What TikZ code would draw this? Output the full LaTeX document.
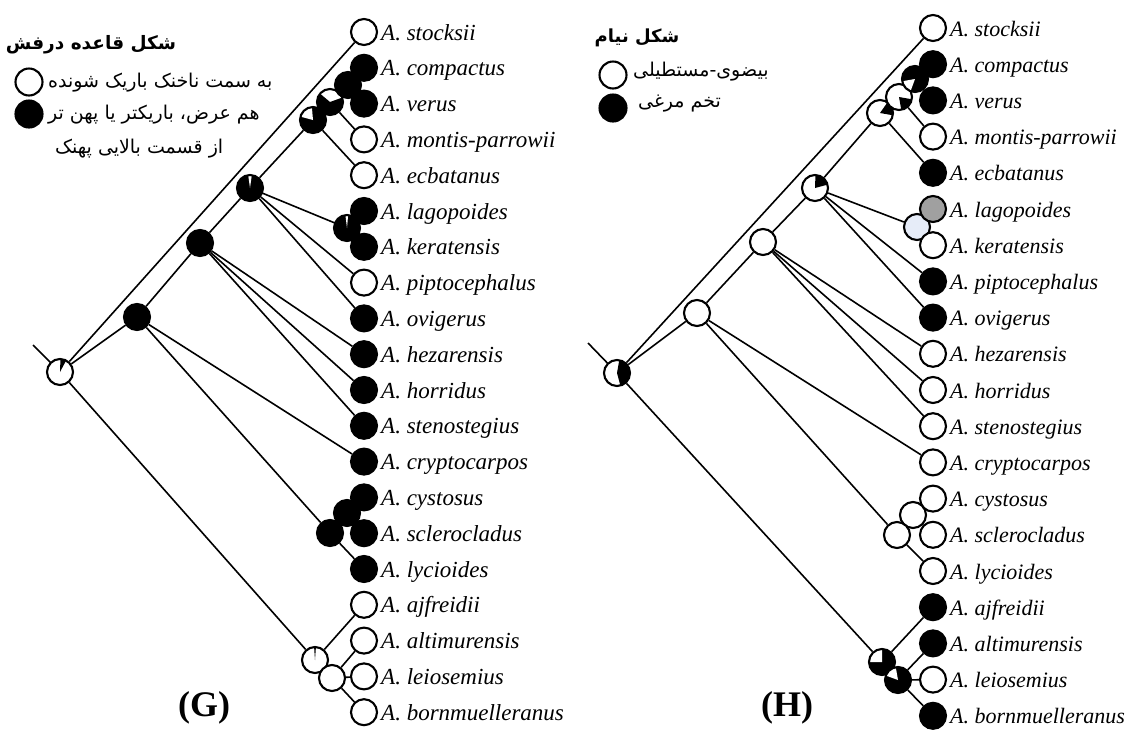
\documentclass[tikz,border=0pt]{standalone}
\usepackage{fontspec}
\setmainfont{Liberation Serif}
\newfontfamily\arabicfont[Script=Arabic]{DejaVu Sans}
\TeXXeTstate=1
\usetikzlibrary{backgrounds}
\definecolor{lblue}{RGB}{230,236,248}
\definecolor{lgray}{RGB}{160,160,160}
\begin{document}
\begin{tikzpicture}[x=1pt,y=1pt,
  edge/.style={line width=1.6pt},
  nd/.style={circle,draw,line width=2.1pt,minimum size=26pt,inner sep=0pt,fill=white},
  bnd/.style={nd,fill=black},
  bw/.style 2 args={path picture={\fill[black] (path picture bounding box.center) -- ++(#1:20pt) arc[start angle=#1,end angle=#2,radius=20pt] -- cycle;}},
  ww/.style 2 args={path picture={\fill[white] (path picture bounding box.center) -- ++(#1:20pt) arc[start angle=#1,end angle=#2,radius=20pt] -- cycle;}},
  lab/.style={anchor=base west,inner sep=0pt,font=\fontsize{23}{25}\selectfont\itshape},
  labh/.style={anchor=base west,inner sep=0pt,font=\fontsize{22}{25}\selectfont\itshape},
  ptitle/.style={inner sep=0pt,font=\fontsize{36}{40}\selectfont\bfseries},
  artitle/.style={inner sep=0pt,font=\arabicfont\bfseries\fontsize{18.5}{22}\selectfont},
  artext/.style={inner sep=0pt,anchor=west,font=\arabicfont\fontsize{19}{22}\selectfont},
]
\useasboundingbox (0,0) rectangle (1130,-732);

% ---------------- legends ----------------
\node[artitle] (gTitle) at (91,-45) {\beginR شکل قاعده درفش\endR};
\node[nd,minimum size=27pt] (gLegW) at (29,-82) {};
\node[bnd,minimum size=27pt] (gLegB) at (29,-114) {};
\node[artext] (gLeg1) at (48,-83) {\beginR به سمت ناخنک باریک شونده\endR};
\node[artext] (gLeg2) at (48,-115) {\beginR هم عرض، باریکتر یا پهن تر\endR};
\node[artext] (gLeg3) at (55,-149) {\beginR از قسمت بالایی پهنک\endR};

\node[artitle,font=\arabicfont\bfseries\fontsize{18}{22}\selectfont] (hTitle) at (637,-38) {\beginR شکل نیام\endR};
\node[nd,minimum size=27pt] (hLegW) at (613,-75) {};
\node[bnd,minimum size=27pt] (hLegB) at (613,-108) {};
\node[artext] (hLeg1) at (633,-72) {\beginR بیضوی-مستطیلی\endR};
\node[artext] (hLeg2) at (638,-104) {\beginR تخم مرغی\endR};

\node[ptitle] (gLab) at (204,-708) {(G)};
\node[ptitle] (hLab) at (787,-708) {(H)};

% ---------------- tree G internal nodes ----------------
\coordinate (gS) at (33,-345);
\node[nd,bw={62}{88}] (gR) at (60,-372) {};
\node[bnd] (gN1) at (137,-317) {};
\node[bnd] (gN2) at (200,-243) {};
\node[bnd,ww={82}{98}] (gN3) at (250,-188) {};
\node[bnd,ww={95}{165}] (gN4) at (313,-120) {};
\node[nd,bw={140}{380}] (gN5) at (330,-102) {};
\node[bnd] (gN6) at (348,-85) {};
\node[bnd,ww={85}{97}] (gLK) at (347,-228) {};
\node[bnd] (gC2) at (347,-513) {};
\node[bnd] (gC1) at (330,-533) {};
\node[nd,bw={86}{94}] (gB1) at (315,-660) {};
\node[nd] (gB2) at (332,-678) {};

% ---------------- tree G leaves ----------------
\foreach \i/\n/\c in {1/stocksii/white,2/compactus/black,3/verus/black,4/montis-parrowii/white,5/ecbatanus/white,6/lagopoides/black,7/keratensis/black,8/piptocephalus/white,9/ovigerus/black,10/hezarensis/black,11/horridus/black,12/stenostegius/black,13/cryptocarpos/black,14/cystosus/black,15/sclerocladus/black,16/lycioides/black,17/ajfreidii/white,18/altimurensis/white,19/leiosemius/white,20/bornmuelleranus/white}{
  \node[nd,fill=\c] (g\i) at (364,{-32-35.8*(\i-1)}) {};
  \node[lab] (gt\i) at (381,{-40-35.8*(\i-1)}) {A. \n};
}

% ---------------- tree H internal nodes ----------------
\coordinate (hS) at (588,-343);
\node[nd,bw={-75}{80}] (hR) at (617,-373) {};
\node[nd] (hN1) at (697,-313) {};
\node[nd] (hN2) at (763,-242) {};
\node[nd,bw={15}{88}] (hN3) at (815,-188) {};
\node[nd,bw={-10}{55}] (hN4) at (880,-113) {};
\node[nd,bw={-80}{-10}] (hN5) at (899,-97) {};
\node[bnd,ww={190}{250}] (hN6) at (915,-79) {};
\node[nd,fill=lblue] (hLK) at (917,-227) {};
\node[nd] (hC2) at (913,-515) {};
\node[nd] (hC1) at (897,-535) {};
\node[bnd,ww={90}{180}] (hB1) at (882,-662) {};
\node[bnd,ww={100}{160}] (hB2) at (898,-680) {};

% ---------------- tree H leaves ----------------
\foreach \i/\n/\c in {1/stocksii/white,2/compactus/black,3/verus/black,4/montis-parrowii/white,5/ecbatanus/black,6/lagopoides/lgray,7/keratensis/white,8/piptocephalus/black,9/ovigerus/black,10/hezarensis/white,11/horridus/white,12/stenostegius/white,13/cryptocarpos/white,14/cystosus/white,15/sclerocladus/white,16/lycioides/white,17/ajfreidii/black,18/altimurensis/black,19/leiosemius/white,20/bornmuelleranus/black}{
  \node[nd,fill=\c] (h\i) at (933,{-28-36.2*(\i-1)}) {};
  \node[labh] (ht\i) at (950,{-36-36.2*(\i-1)}) {A. \n};
}

% ---------------- edges ----------------
\begin{scope}[on background layer]
\foreach \p in {g,h}{
  \draw[edge] (\p S) -- (\p R.center);
  \draw[edge] (\p R) -- (\p 1);
  \draw[edge] (\p R) -- (\p N1);
  \draw[edge] (\p R) -- (\p B1);
  \draw[edge] (\p N1) -- (\p N2);
  \draw[edge] (\p N1) -- (\p 13);
  \draw[edge] (\p N1) -- (\p C1);
  \draw[edge] (\p C1) -- (\p C2);
  \draw[edge] (\p C1) -- (\p 16);
  \draw[edge] (\p C2) -- (\p 14);
  \draw[edge] (\p C2) -- (\p 15);
  \draw[edge] (\p N2) -- (\p N3);
  \draw[edge] (\p N2) -- (\p 10);
  \draw[edge] (\p N2) -- (\p 11);
  \draw[edge] (\p N2) -- (\p 12);
  \draw[edge] (\p N3) -- (\p N4);
  \draw[edge] (\p N3) -- (\p LK);
  \draw[edge] (\p N3) -- (\p 8);
  \draw[edge] (\p N3) -- (\p 9);
  \draw[edge] (\p LK) -- (\p 6);
  \draw[edge] (\p LK) -- (\p 7);
  \draw[edge] (\p N4) -- (\p N5);
  \draw[edge] (\p N4) -- (\p 5);
  \draw[edge] (\p N5) -- (\p N6);
  \draw[edge] (\p N5) -- (\p 4);
  \draw[edge] (\p N6) -- (\p 2);
  \draw[edge] (\p N6) -- (\p 3);
  \draw[edge] (\p B1) -- (\p 17);
  \draw[edge] (\p B1) -- (\p B2);
  \draw[edge] (\p B2) -- (\p 18);
  \draw[edge] (\p B2) -- (\p 19);
  \draw[edge] (\p B2) -- (\p 20);
}
\end{scope}
\end{tikzpicture}
\end{document}
